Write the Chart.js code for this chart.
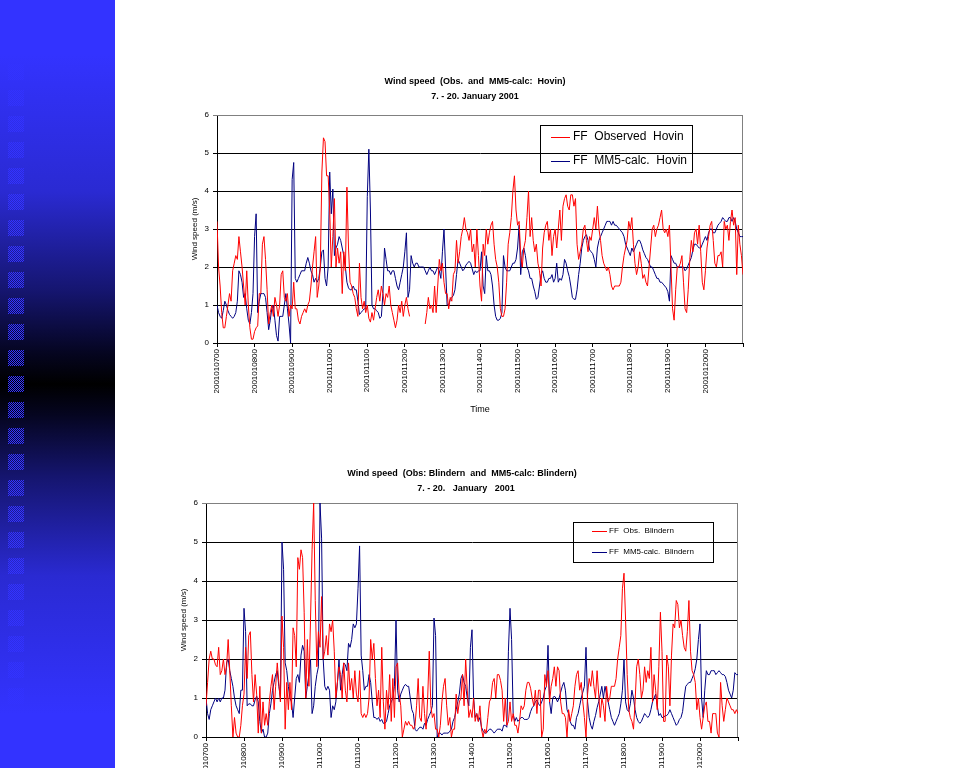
<!DOCTYPE html>
<html>
<head>
<meta charset="utf-8">
<title>Wind speed 7. - 20. January 2001</title>
<script src="https://cdn.jsdelivr.net/npm/chart.js@4.4.1/dist/chart.umd.min.js"></script>
<style>
  html, body { margin: 0; padding: 0; background: #fff; overflow: hidden; }
  body { width: 960px; height: 830px; position: relative; }
  #side {
    position: absolute; left: 0; top: 0; width: 115px; height: 768px;
    background: linear-gradient(to bottom,
      #3333ff 0%, #3333ff 7%, #2a2ad2 25%, #15156e 38%, #050520 46%, #000000 50%,
      #050520 54%, #15156e 62%, #2a2ad2 75%, #3333ff 93%, #3333ff 100%);
  }
  .sq {
    position: absolute; left: 8px; width: 16px; height: 16px;
    background: repeating-conic-gradient(#3333ff 0 25%, transparent 0 50%) 0 0 / 2px 2px;
  }
  .wrap { position: absolute; }
</style>
</head>
<body>
<div id="side"></div>
<div class="wrap" style="left:150px; top:60px;"><canvas id="hovin" width="610" height="355"></canvas></div>
<div class="wrap" style="left:150px; top:460px;"><canvas id="blindern" width="600" height="370"></canvas></div>

<script>
// day labels shown under the x axis, one every 24 hours
const tickLabels = ['2001010700', '2001010800', '2001010900', '2001011000', '2001011100',
  '2001011200', '2001011300', '2001011400', '2001011500', '2001011600',
  '2001011700', '2001011800', '2001011900', '2001012000'];

// hourly wind speed (m/s), Hovin
const obsHovin = [
  3.2, 2.0, 1.5, 0.8, 0.4, 0.4, 0.7, 1.0, 1.3, 1.1,
  1.9, 2.1, 2.3, 2.2, 2.8, 2.4, 2.0, 1.5, 1.0, 1.9,
  1.0, 0.4, 0.1, 0.1, 0.3, 0.4, 0.45, 1.3, 1.3, 2.6,
  2.8, 2.2, 1.4, 0.5, 0.8, 1.0, 0.7, 1.2, 1.0, 0.7,
  1.0, 1.8, 1.9, 1.2, 1.1, 1.3, 0.7, 1.0, 0.9, 1.6,
  0.9, 0.9, 0.6, 0.5, 0.7, 0.8, 0.9, 0.8, 1.0, 1.1,
  1.5, 2.0, 2.4, 2.8, 1.2, 1.5, 2.0, 4.5, 5.4, 5.3,
  4.4, 4.4, 3.5, 2.0, 2.8, 3.8, 2.0, 2.5, 2.1, 2.4,
  1.3, 2.4, 1.9, 4.1, 2.5, 1.6, 1.5, 1.3, 1.2, 0.9,
  0.7, 2.1, 1.2, 0.9, 1.1, 0.8, 1.0, 0.65, 0.55, 0.8,
  0.6, 0.9, 1.2, 1.4, 1.1, 1.5, 1.3, 1.0, 1.3, 1.2,
  1.5, 1.0, 0.8, 0.6, 0.4, 0.6, 1.0, 0.8, 1.1, 0.7,
  1.0, 1.2, 0.9, 0.7, null, null, null, null, null, null,
  null, null, null, 0.5, 0.8, 1.2, 0.9, 1.0, 0.8, 1.5,
  0.8, 1.5, 2.2, 1.9, 2.1, 1.6, 1.3, 1.3, 0.9, 1.2,
  1.1, 1.8, 1.9, 2.7, 2.1, 2.4, 2.8, 3.0, 3.3, 3.0,
  2.9, 2.7, 3.0, 2.4, 2.6, 2.0, 3.0, 2.3, 1.5, 1.1,
  2.6, 2.3, 3.0, 2.6, 2.9, 3.1, 3.2, 2.6, 2.2, 2.0,
  1.6, 0.9, 0.7, 0.7, 0.9, 1.6, 2.6, 2.9, 3.3, 4.0,
  4.4, 3.5, 3.1, 3.2, 2.3, 2.0, 2.5, 2.7, 3.3, 4.0,
  2.8, 3.3, 2.7, 2.4, 2.6, 2.1, 1.9, 1.5, 2.5, 2.9,
  3.1, 3.2, 2.7, 3.0, 2.3, 2.8, 3.0, 2.5, 3.0, 3.5,
  2.7, 3.6, 3.8, 3.9, 3.6, 3.5, 3.9, 3.9, 3.6, 3.8,
  2.6, 2.2, 2.4, 2.6, 3.0, 3.1, 2.7, 2.4, 2.8, 2.7,
  3.0, 3.3, 3.0, 3.6, 3.0, 2.7, 2.3, 2.1, 2.0, 1.9,
  2.0, 1.8, 1.5, 1.4, 1.5, 1.5, 1.5, 1.5, 1.6, 2.0,
  2.3, 2.5, 2.7, 3.2, 3.0, 3.3, 2.6, 2.1, 1.8, 2.0,
  2.4, 2.1, 1.7, 1.8, 1.6, 1.5, 2.0, 2.5, 3.0, 3.1,
  2.8, 3.0, 3.1, 3.3, 3.5, 3.0, 2.9, 3.0, 2.8, 3.1,
  2.0, 0.9, 0.6, 1.4, 2.0, 2.0, 2.1, 2.3, 1.6, 0.9,
  0.8, 1.4, 2.2, 2.7, 2.4, 2.9, 3.0, 2.6, 3.1, 2.4,
  1.6, 1.4, 1.9, 2.5, 2.8, 3.1, 3.2, 2.7, 2.1, 2.0,
  2.3, 2.3, 2.4, 2.0, 3.2, 3.0, 3.1, 2.7, 3.2, 3.5,
  3.1, 3.3, 1.8, 3.1, 2.6, 2.3, 1.8
];
const mm5Hovin = [
  1.0, 0.8, 0.7, 0.65, 0.85, 1.1, 1.0, 0.85, 0.75, 0.7,
  0.65, 0.7, 0.8, 1.1, 1.9, 1.8, 1.6, 1.2, 1.3, 0.9,
  0.6, 0.5, 0.8, 1.3, 2.8, 3.4, 0.8, 1.1, 1.3, 1.3,
  1.3, 1.2, 0.8, 0.35, 0.6, 0.9, 1.0, 0.6, 0.2, 0.05,
  0.7, 0.7, 0.7, 1.0, 1.3, 0.9, 0.5, 0.0, 4.3, 4.75,
  1.7, 1.6, 1.7, 1.8, 1.9, 1.9, 1.9, 2.1, 2.25, 2.1,
  1.9, 1.8, 1.6, 1.7, 1.6, 1.7, 2.0, 2.4, 2.45, 1.7,
  1.5, 2.0, 4.5, 3.4, 4.05, 2.3, 2.5, 2.6, 2.8, 2.7,
  2.5, 2.3, 2.0, 1.6, 1.45, 1.4, 1.4, 1.5, 1.4, 1.4,
  1.1, 0.75, 0.8, 0.85, 0.9, 0.9, 3.85, 5.1, 3.5, 1.0,
  0.9, 0.9, 0.85, 0.8, 0.65, 0.7, 1.3, 2.5, 2.2, 1.9,
  1.9, 1.8, 1.9, 1.9, 1.7, 1.5, 1.4, 1.6, 1.8, 2.0,
  2.4, 2.9, 1.2, 1.4, 2.3, 2.1, 2.0, 2.1, 2.1, 2.0,
  2.0, 2.0, 2.0, 1.9, 1.8, 1.9, 2.0, 1.9, 1.9, 1.8,
  1.9, 2.0, 1.9, 1.7, 2.4, 3.0, 2.0, 1.0, 1.0, 1.15,
  1.2, 1.25, 1.4, 1.8, 2.2, 2.1, 2.0, 1.9, 1.95, 2.05,
  2.1, 2.15, 2.1, 1.95, 1.8, 1.9, 1.85, 1.9, 1.9, 2.4,
  1.5, 1.3, 2.3, 1.9, 1.9, 1.8, 1.5, 1.0, 0.7, 0.6,
  0.6, 0.65, 0.8, 2.3, 2.0, 1.9, 1.9, 1.9, 2.0, 2.1,
  2.1, 2.2, 2.5, 3.1, 1.8, 2.4, 2.5, 2.3, 2.0, 1.9,
  1.7, 1.7, 1.5, 1.35, 1.15, 1.2, 1.5, 1.8, 1.9, 1.7,
  1.6, 1.6, 1.7, 1.7, 1.8, 1.6, 1.7, 2.1, 1.6, 1.7,
  1.65, 1.8, 2.2, 2.1, 1.9, 1.75, 1.5, 1.2, 1.15, 1.15,
  1.4, 1.8, 2.1, 2.5, 2.7, 2.8, 2.85, 2.7, 2.45, 2.4,
  2.35, 2.2, 2.0, 2.5, 2.7, 2.8, 2.9, 3.0, 3.1, 3.2,
  3.2, 3.2, 3.1, 3.2, 3.1, 3.1, 3.05, 3.0, 2.95, 2.9,
  2.8, 2.6, 2.5, 2.4, 2.3, 2.5, 2.4, 2.5, 2.6, 2.7,
  2.7, 2.6, 2.45, 2.35, 2.25, 2.2, 2.1, 2.0, 2.0, 1.9,
  1.8, 1.7, 1.7, 1.6, 1.6, 1.55, 1.5, 1.45, 1.35, 1.1,
  2.3, 2.2, 2.1, 2.1, 2.0, 2.0, 2.0, 2.0, 2.0, 1.9,
  1.95, 2.05, 2.15, 2.25, 2.45, 2.6, 2.6, 2.55, 2.5, 2.5,
  2.6, 2.7, 2.8, 2.7, 2.9, 3.0, 3.0, 2.9, 2.9, 3.0,
  3.1, 3.15, 3.2, 3.3, 3.25, 3.2, 3.2, 3.3, 3.3, 3.2,
  3.3, 3.2, 3.0, 2.9, 2.8, 2.8, 2.8
];

// hourly wind speed (m/s), Blindern
const obsBlindern = [
  0.8, 1.4, 2.0, 2.2, 2.0, 2.0, 1.85, 1.8, 2.3, 1.6,
  1.7, 2.0, 1.6, 1.8, 2.5, 1.7, 0.8, 0.0, 0.5, 0.1,
  0.0, 0.0, 0.3, 0.8, 1.1, 2.3, 1.5, 2.6, 2.7, 1.6,
  0.9, 1.6, 1.1, 0.1, 1.3, 0.1, 0.9, 0.3, 0.6, 0.3,
  0.9, 1.3, 1.6, 0.7, 1.3, 1.9, 1.4, 0.9, 3.1, 2.3,
  0.2, 1.4, 0.7, 1.4, 0.7, 2.8, 2.6, 1.8, 4.6, 4.3,
  4.8, 4.6, 3.2, 1.0, 2.5, 1.3, 3.0, 4.8, 6.0, 3.5,
  1.8, 2.7, 2.3, 3.6, 2.0, 2.2, 2.6, 2.1, 2.9, 2.7,
  3.0, 2.2, 1.0, 1.4, 1.8, 1.6, 1.0, 1.9, 1.2, 0.9,
  1.9, 1.2, 1.5, 1.0, 1.7, 1.1, 0.9, 1.7, 0.6, 0.5,
  0.6, 0.5, 0.6, 1.0, 2.5, 2.0, 2.4, 1.5, 0.8, 1.2,
  0.5, 2.3, 0.9, 0.2, 1.2, 0.7, 1.6, 0.4, 1.5, 0.5,
  1.8, 1.9, 1.1, 0.8, 0.0, 0.2, 0.4, 0.3, 0.4, 0.3,
  0.3, 0.2, 0.3, 0.8, 1.5, 0.5, 0.4, 1.3, 0.6, 0.2,
  1.0, 2.2, 0.8, 0.5, 0.6, 0.2, 0.2, 0.0, 0.3, 0.9,
  1.3, 1.5, 0.8, 0.3, 0.5, 0.0, 0.2, 0.2, 1.1, 0.6,
  0.9, 1.0, 1.6, 0.8, 2.0, 1.2, 0.5, 0.7, 0.5, 1.0,
  0.4, 0.6, 0.4, 0.8, 0.2, 0.0, 0.2, 0.1, 0.5, 0.9,
  1.0, 1.4, 1.5, 1.0, 1.6, 1.6, 1.45, 1.2, 0.4, 1.0,
  0.3, 0.4, 0.9, 0.4, 0.6, 0.3, 0.3, 0.1, 0.4, 0.8,
  0.7, 0.8, 1.2, 1.4, 1.4, 1.25, 1.0, 0.8, 1.2, 0.6,
  1.2, 1.2, 0.0, 0.2, 1.6, 1.3, 1.7, 0.9, 1.3, 1.5,
  1.8, 1.3, 1.8, 1.7, 0.9, 0.6, 0.6, 0.5, 0.0, 0.7,
  0.4, 0.6, 0.8, 1.3, 1.6, 1.7, 1.2, 1.4, 0.9, 0.5,
  0.0, 1.1, 1.5, 1.3, 1.7, 1.3, 1.0, 1.7, 1.1, 0.5,
  1.0, 0.8, 0.4, 1.3, 0.9, 1.0, 1.3, 1.3, 1.3, 1.5,
  2.0, 2.3, 2.6, 3.8, 4.2, 3.0, 1.6, 0.7, 0.5, 0.4,
  0.2, 0.9, 1.8, 2.0, 1.6, 1.0, 1.2, 1.8, 1.4, 1.7,
  1.5, 2.3, 0.9, 1.6, 1.2, 0.7, 1.8, 3.2, 2.2, 0.4,
  0.4, 2.1, 1.8, 0.8, 2.1, 2.9, 2.8, 3.5, 3.4, 2.8,
  3.0, 2.6, 2.3, 2.2, 2.7, 3.5, 2.2, 1.7, 1.6, 1.4,
  0.7, 1.0, 0.5, 0.2, 0.5, 0.8, 0.9, 0.4, 0.4, 0.1,
  0.6, 0.6, 0.6, 0.1, 0.0, 1.4, 0.8, 0.4, 0.7, 1.0,
  0.9, 0.8, 0.7, 0.7, 0.6, 0.7, 0.6
];
const mm5Blindern = [
  1.0, 0.6, 0.45, 0.7, 0.8, 0.9, 1.0, 0.9, 1.0, 0.9,
  1.0, 1.0, 1.2, 1.9, 2.0, 1.7, 1.5, 1.3, 1.0, 0.8,
  0.7, 0.6, 1.2, 1.2, 3.3, 2.7, 0.8, 0.85, 0.85, 0.8,
  0.8, 0.95, 1.05, 0.9, 0.4, 0.1, 0.2, 0.0, 0.0, 0.1,
  0.6, 0.85, 1.2, 1.4, 1.6, 1.7, 1.3, 1.0, 5.0, 4.3,
  1.9, 1.7, 1.3, 1.0, 0.9, 0.5, 1.0, 1.5, 1.6, 1.4,
  2.1, 2.35, 2.2, 1.0, 1.3, 1.6, 2.0, 0.6, 0.8, 1.3,
  1.6, 1.8, 6.0, 5.1, 2.0, 1.3, 1.2, 1.3, 1.2, 0.5,
  0.8, 0.7, 0.9, 1.4, 2.0, 1.2, 1.6, 1.9, 1.85, 1.7,
  2.4, 2.3, 2.5, 2.9, 2.8, 2.9, 3.8, 4.9, 2.1, 1.7,
  1.2, 1.3, 1.3, 1.6, 1.4, 0.9, 0.5, 0.5, 0.45, 0.5,
  0.4, 0.45, 0.35, 0.35, 0.4, 0.6, 0.8, 0.9, 1.0, 1.3,
  3.0, 1.2, 0.9, 1.1, 1.2, 1.3, 1.35, 1.3, 1.3, 1.0,
  0.7, 0.6, 0.2, 0.15, 0.2, 0.25, 0.25, 0.2, 0.35, 0.3,
  0.45, 0.55, 0.65, 0.8, 3.05, 2.6, 0.0, 0.1, 0.1, 0.05,
  0.1, 0.1, 0.1, 0.1, 0.15, 0.2, 0.4, 0.5, 0.7, 0.9,
  1.1, 1.5, 1.6, 1.4, 1.3, 1.0, 0.8, 2.3, 2.75, 1.0,
  0.5, 0.6, 0.4, 0.5, 0.25, 0.15, 0.1, 0.1, 0.15, 0.2,
  0.2, 0.15, 0.1, 0.15, 0.2, 0.2, 0.2, 0.15, 0.3, 0.3,
  0.25, 2.2, 3.3, 2.5, 0.6, 0.4, 0.5, 0.4, 0.45, 0.5,
  0.5, 0.45, 0.45, 0.45, 0.5, 0.65, 0.75, 0.8, 0.9, 0.95,
  0.85, 0.8, 0.9, 1.0, 1.2, 1.3, 2.35, 0.9, 0.6, 1.0,
  1.05, 1.0, 0.9, 1.0, 1.15, 1.3, 1.4, 1.2, 0.7, 0.6,
  0.4, 0.3, 0.3, 0.2, 0.5, 0.6, 0.8, 1.0, 1.15, 1.3,
  2.3, 0.9, 0.5, 0.3, 0.2, 0.4, 0.55, 0.75, 0.9, 1.1,
  1.3, 1.0, 1.3, 1.1, 0.9, 0.7, 0.5, 0.4, 0.3, 0.4,
  0.5, 0.6, 0.85, 1.2, 2.0, 0.9, 0.7, 0.65, 0.85, 1.2,
  1.0, 0.7, 0.5, 0.4, 0.35, 0.4, 0.5, 0.6, 0.55, 0.5,
  0.55, 0.7, 0.9, 1.0, 1.1, 0.8, 0.55, 0.6, 0.5, 0.5,
  0.55, 0.55, 0.6, 0.7, 0.6, 0.5, 0.4, 0.3, 0.35, 0.45,
  0.5, 0.65, 1.0, 1.3, 1.35, 1.4, 1.4, 1.5, 1.6, 1.75,
  2.0, 2.5, 2.9, 1.0, 0.5, 1.2, 1.7, 1.6, 1.6, 1.7,
  1.7, 1.7, 1.6, 1.65, 1.7, 1.65, 1.6, 1.6, 1.55, 1.4,
  1.2, 1.1, 1.0, 1.2, 1.65, 1.6, 1.6
];

// hour index along the x axis (0 = 7 Jan 00h)
const hours = obsHovin.map((_, i) => i);

const FONT = 'Arial, "Liberation Sans", sans-serif';
Chart.defaults.font.family = FONT;
Chart.defaults.font.size = 8;
Chart.defaults.color = '#000';

// sidebar squares
const side = document.getElementById('side');
for (let k = 0; k < 25; k++) {
  const sq = document.createElement('div');
  sq.className = 'sq';
  sq.style.top = (64 + k * 26) + 'px';
  side.appendChild(sq);
}

// titles, legend box and grey plot border, all in page coordinates
const decor = {
  id: 'decor',
  beforeDatasetsDraw(chart, args, o) {
    const { ctx, chartArea: a } = chart;
    ctx.save();
    ctx.strokeStyle = '#808080';
    ctx.lineWidth = 1;
    ctx.beginPath();
    ctx.moveTo(a.left, a.top + 0.5);
    ctx.lineTo(a.right - 0.5, a.top + 0.5);
    ctx.lineTo(a.right - 0.5, a.bottom);
    ctx.stroke();
    ctx.restore();
  },
  afterDatasetsDraw(chart, args, o) {
    const ctx = chart.ctx;
    const ox = o.offset[0], oy = o.offset[1];
    ctx.save();
    ctx.fillStyle = '#000';
    ctx.textAlign = 'center';
    ctx.textBaseline = 'middle';
    ctx.font = 'bold 9px ' + FONT;
    o.heading.forEach(h => ctx.fillText(h.text, h.x - ox, h.y - oy));

    const L = o.legend;
    ctx.strokeStyle = '#000';
    ctx.lineWidth = 1;
    ctx.strokeRect(L.x - ox + 0.5, L.y - oy + 0.5, L.w, L.h);
    ctx.font = L.size + 'px ' + FONT;
    ctx.textAlign = 'left';
    L.items.forEach(it => {
      const y = Math.round(it.y - oy) + 0.5;
      ctx.strokeStyle = it.color;
      ctx.beginPath();
      ctx.moveTo(L.lineX[0] - ox, y);
      ctx.lineTo(L.lineX[1] - ox, y);
      ctx.stroke();
      ctx.fillText(it.text, L.textX - ox, it.y - oy);
    });
    ctx.restore();
  }
};

function windChart(id, obs, mm5, lay) {
  return new Chart(document.getElementById(id), {
    type: 'line',
    data: {
      labels: hours,
      datasets: [
        { data: obs, borderColor: '#ff0000', borderWidth: 1, pointRadius: 0, tension: 0, spanGaps: false },
        { data: mm5, borderColor: '#000080', borderWidth: 1, pointRadius: 0, tension: 0, spanGaps: false }
      ]
    },
    options: {
      responsive: false,
      animation: false,
      events: [],
      layout: { padding: { top: lay.padTop, right: lay.padRight, left: 0, bottom: 0 } },
      plugins: {
        legend: { display: false },
        tooltip: { enabled: false },
        decor: lay.decor
      },
      scales: {
        x: {
          type: 'linear',
          min: 0,
          max: hours.length - 1,
          afterFit: s => { s.height = lay.xHeight; },
          ticks: {
            stepSize: 24,
            maxTicksLimit: 30,
            autoSkip: false,
            minRotation: 90,
            maxRotation: 90,
            padding: 2,
            font: { size: 8 },
            callback: v => tickLabels[v / 24] ?? ''
          },
          grid: { drawOnChartArea: false, drawTicks: true, tickLength: 4, color: '#000' },
          border: { color: '#000', width: 1 },
          title: { display: lay.xTitle, text: 'Time', font: { size: 9 }, padding: 0 }
        },
        y: {
          min: 0,
          max: 6,
          afterFit: s => { s.width = lay.yWidth; },
          ticks: { stepSize: 1, padding: 4, font: { size: 8 } },
          grid: {
            tickLength: 4,
            color: c => (c.tick && c.tick.value === 6 ? '#808080' : '#000')
          },
          border: { color: '#000', width: 1 },
          title: { display: true, text: 'Wind speed (m/s)', font: { size: 8 }, padding: { top: lay.yTitlePad, bottom: 0 } }
        }
      }
    },
    plugins: [decor]
  });
}

windChart('hovin', obsHovin, mm5Hovin, {
  padTop: 55, padRight: 17, yWidth: 67, xHeight: 72, xTitle: true, yTitlePad: 40,
  decor: {
    offset: [150, 60],
    heading: [
      { text: 'Wind speed  (Obs.  and  MM5-calc:  Hovin)', x: 475, y: 82 },
      { text: '7. - 20. January 2001', x: 475, y: 97 }
    ],
    legend: {
      x: 540, y: 125, w: 152, h: 47, size: 12, lineX: [551, 570], textX: 573,
      items: [
        { text: 'FF  Observed  Hovin', color: '#ff0000', y: 137 },
        { text: 'FF  MM5-calc.  Hovin', color: '#000080', y: 161 }
      ]
    }
  }
});

windChart('blindern', obsBlindern, mm5Blindern, {
  padTop: 43, padRight: 12, yWidth: 56, xHeight: 93, xTitle: false, yTitlePad: 29,
  decor: {
    offset: [150, 460],
    heading: [
      { text: 'Wind speed  (Obs: Blindern  and  MM5-calc: Blindern)', x: 462, y: 474 },
      { text: '7. - 20.   January   2001', x: 466, y: 489 }
    ],
    legend: {
      x: 573, y: 522, w: 140, h: 40, size: 8, lineX: [592, 607], textX: 609,
      items: [
        { text: 'FF  Obs.  Blindern', color: '#ff0000', y: 531 },
        { text: 'FF  MM5-calc.  Blindern', color: '#000080', y: 552 }
      ]
    }
  }
});
</script>
</body>
</html>
